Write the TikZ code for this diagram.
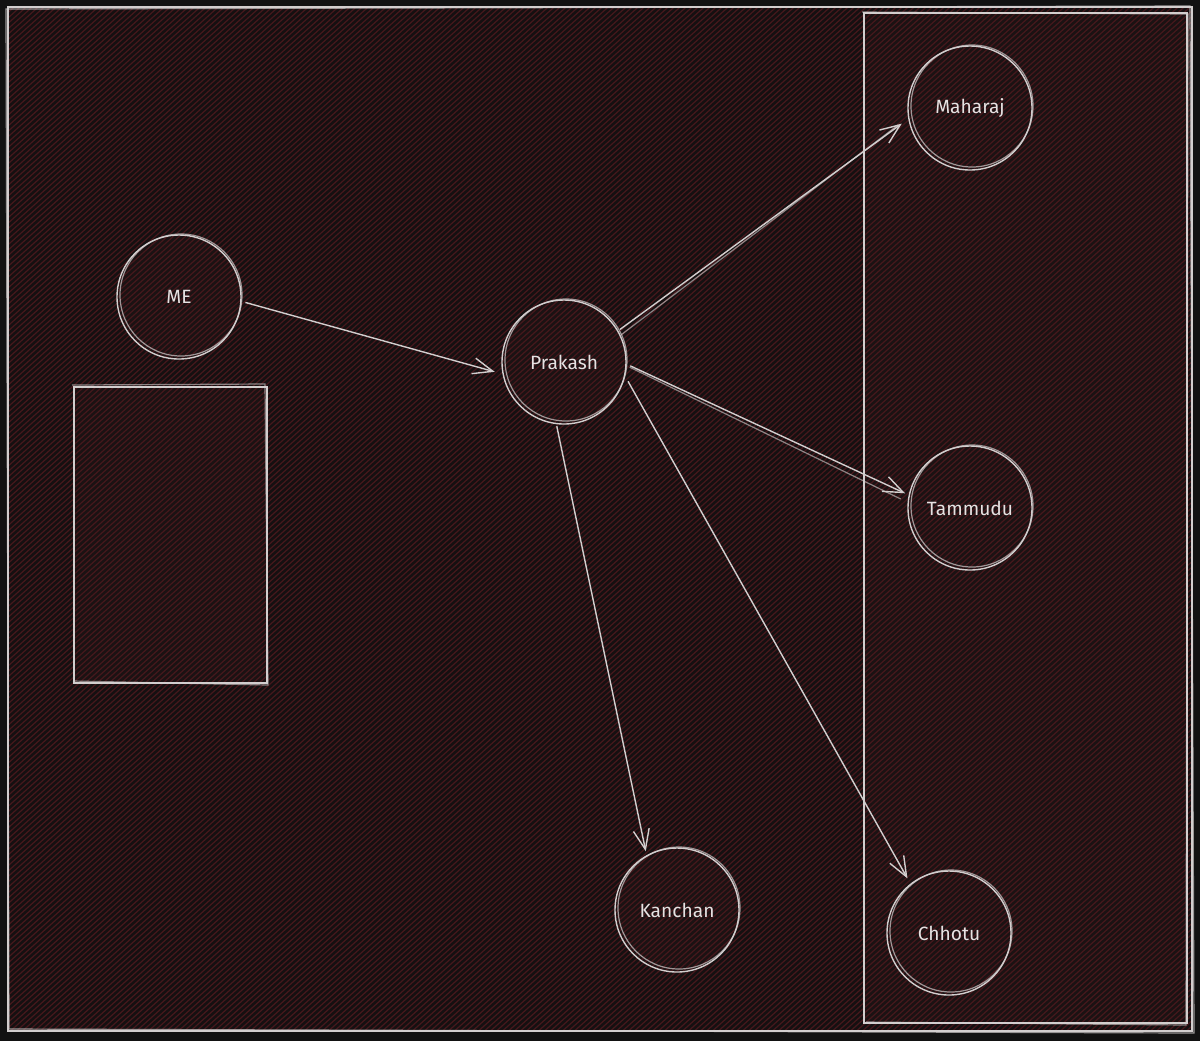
\documentclass[tikz,border=0pt]{standalone}
\usepackage{fontspec}
\setmainfont{Fira Sans}
\usetikzlibrary{arrows.meta}
\definecolor{bgout}{HTML}{121212}
\definecolor{bgin}{HTML}{151011}
\definecolor{bgshape}{HTML}{1B1213}
\definecolor{hach}{HTML}{46181C}
\definecolor{ink}{HTML}{D2CECE}
\definecolor{txt}{HTML}{E6E2E2}
\tikzset{
  person/.style={circle, draw=ink, line width=0.7pt, minimum size=62pt, inner sep=0pt,
    text=txt, font=\fontsize{9.6}{11}\selectfont},
  sketch/.style={draw=ink, line width=0.6pt},
  link/.style={draw=ink, line width=0.7pt, -{Straight Barb[length=10pt,width=8pt,line width=0.7pt]}},
  box/.style={draw=ink, line width=0.7pt},
}
\begin{document}
\begin{tikzpicture}[x=0.5pt,y=-0.5pt]
\useasboundingbox (0,0) rectangle (1200,1041);
\fill[bgout] (0,0) rectangle (1200,1041);
\fill[bgin] (8,7) rectangle (1192,1031);
% shape fills
\fill[bgshape] (864,13) rectangle (1187,1023);
\fill[bgshape] (74,387) rectangle (267,683);
\foreach \cx/\cy in {179/297,564/362,970/108,970/508,677/910,949/933}
  \fill[bgshape] (\cx,\cy) circle[radius=62];
% hachure
\begin{scope}
\clip (8,7) rectangle (1192,1031);
\foreach \c in {-1170,-1164,...,1200}
  \draw[hach, line width=0.6pt] (\c,1035) -- ({\c+1150},0);
\end{scope}
% outer frame (double stroke)
\draw[box] (8,7) rectangle (1192,1031);
\draw[sketch, opacity=0.7] (6,9) -- (1190,6) -- (1194,1033) -- (9,1029) -- cycle;
% right panel
\draw[box] (864,13) rectangle (1187,1023);
\draw[sketch, opacity=0.6] (862,12) -- (1188,14) -- (1186,1025) -- (866,1022);
% left box
\draw[box] (74,387) rectangle (267,683);
\draw[sketch, opacity=0.6] (72,385) -- (265,384) -- (268,685) -- (73,681);
% nodes
\node[person] (me) at (179,297) {ME};
\node[person] (prakash) at (564,362) {Prakash};
\node[person] (maharaj) at (970,108) {Maharaj};
\node[person] (tammudu) at (970,508) {Tammudu};
\node[person] (kanchan) at (677,910) {Kanchan};
\node[person] (chhotu) at (949,933) {Chhotu};
% second sketch strokes on circles
\foreach \n in {me,prakash,maharaj,tammudu,kanchan,chhotu}
  \draw[sketch, opacity=0.7] ([shift={(2,-2)}]\n.center) circle[radius=61];
% connectors
\draw[link, shorten <=2pt, shorten >=4pt] (me.-4) -- (prakash.-169);
\draw[link, shorten <=1pt, shorten >=4pt] (prakash.30) -- (maharaj.190);
\draw[sketch, opacity=0.6] ([shift={(3,4)}]prakash.30) -- ([shift={(-10,6)}]maharaj.190);
\draw[link, shorten <=2pt, shorten >=2pt] (prakash.-2) -- (tammudu.168);
\draw[sketch, opacity=0.6] ([shift={(3,3)}]prakash.-2) -- ([shift={(-8,4)}]tammudu.168);
\draw[link, shorten <=1pt, shorten >=2pt] (prakash.263) -- (kanchan.119);
\draw[link, shorten <=3pt, shorten >=3pt] (prakash.-13) -- (chhotu.128);
\end{tikzpicture}
\end{document}
